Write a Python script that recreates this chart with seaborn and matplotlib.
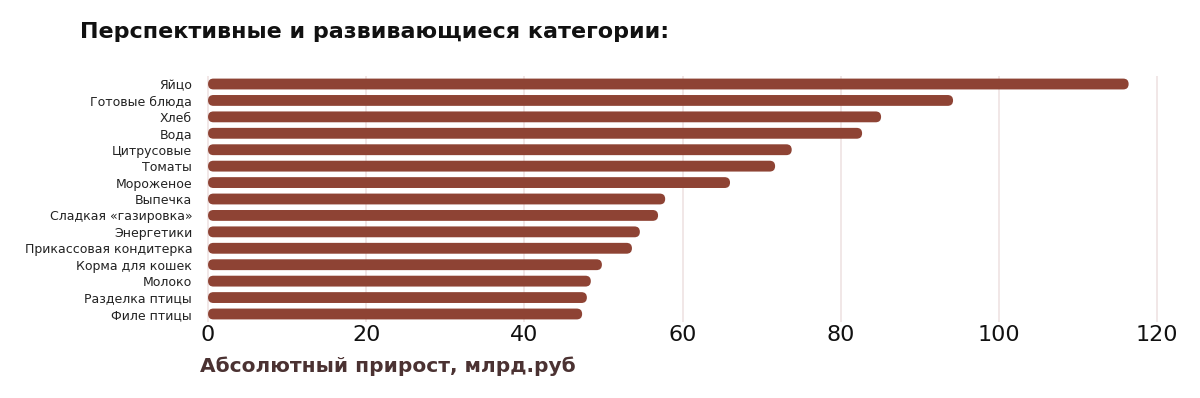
import numpy as np
import pandas as pd
import seaborn as sns
import matplotlib.pyplot as plt
from matplotlib.patches import FancyBboxPatch

categories = ["Яйцо", "Готовые блюда", "Хлеб", "Вода", "Цитрусовые", "Томаты",
              "Мороженое", "Выпечка", "Сладкая «газировка»", "Энергетики",
              "Прикассовая кондитерка", "Корма для кошек", "Молоко",
              "Разделка птицы", "Филе птицы"]
values = [116.4, 94.2, 85.1, 82.7, 73.8, 71.7, 66.0, 57.8, 56.9, 54.6,
          53.6, 49.8, 48.4, 47.9, 47.3]
ticks = [0, 20, 40, 60, 80, 100, 120]

BAR = "#8e4334"

sns.set_theme(style="white")
plt.rcParams['font.family'] = ['DejaVu Sans']

df = pd.DataFrame({"cat": categories, "val": values})

fig = plt.figure(figsize=(12, 3.98), dpi=100)
ax = fig.add_axes([203.3 / 1200, 1 - 322.2 / 398, (1165 - 203.3) / 1200, (322.2 - 75.8) / 398])

sns.barplot(data=df, x="val", y="cat", color=BAR, width=0.66, saturation=1, ax=ax)

ax.set_xlim(-0.6, 121)
ax.set_ylim(len(categories) - 0.5, -0.5)

# скругленные концы у полос
px_x = 7.91
px_y = 16.43
r = 5.4 / px_x
aspect = (5.4 / px_y) / r
for p in list(ax.patches):
    x, y = p.get_x(), p.get_y()
    w, h = p.get_width(), p.get_height()
    p.remove()
    fb = FancyBboxPatch((x, y), w, h, boxstyle=f"round,pad=0,rounding_size={r}",
                        mutation_aspect=aspect, facecolor=BAR, edgecolor="none",
                        zorder=3)
    ax.add_patch(fb)

ax.set_xticks(ticks)
ax.grid(axis="x", color="#efe3e3", linewidth=1.2, zorder=0)
ax.grid(axis="y", visible=False)
for s in ax.spines.values():
    s.set_visible(False)
ax.tick_params(axis="x", length=0, pad=2, labelsize=16, labelcolor="#111111")
ax.tick_params(axis="y", length=0, pad=8, labelsize=9, labelcolor="#222222")
ax.set_xlabel("")
ax.set_ylabel("")

fig.text(80 / 1200, 1 - 32 / 398, "Перспективные и развивающиеся категории:",
         fontsize=16, fontweight="bold", color="#111111", va="center", ha="left")
fig.text(200 / 1200, 1 - 366 / 398, "Абсолютный прирост, млрд.руб",
         fontsize=14.5, fontweight="bold", color="#4b3232", va="center", ha="left")

fig.savefig("out.png", dpi=100)
